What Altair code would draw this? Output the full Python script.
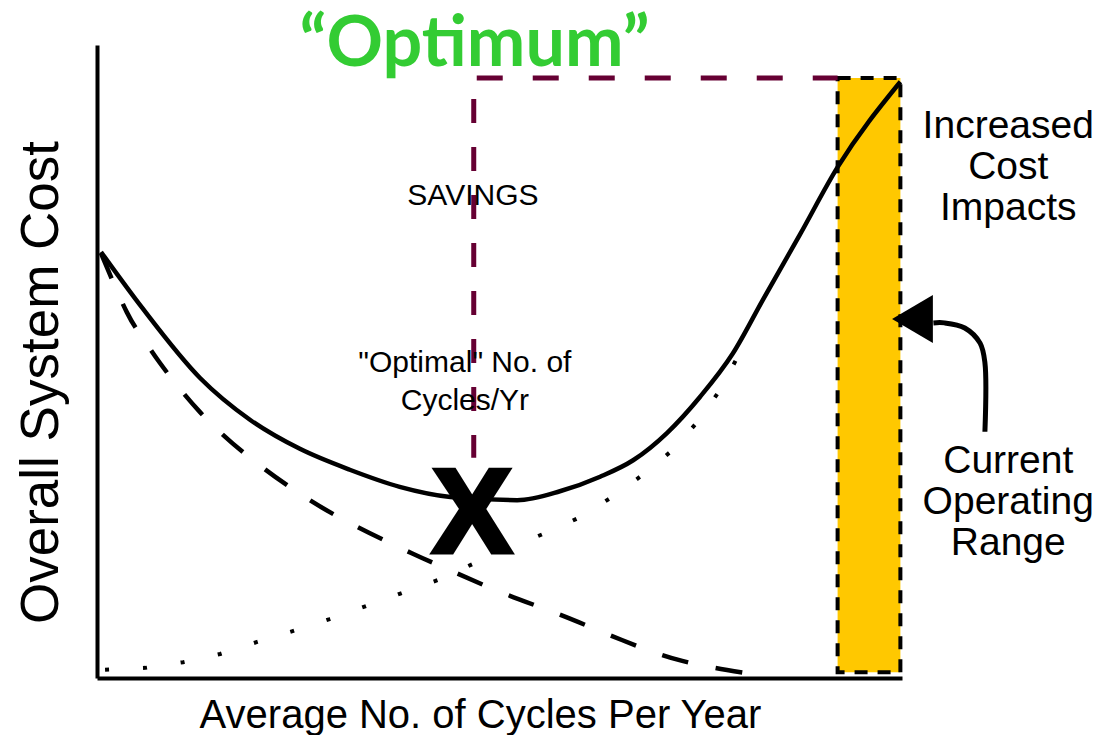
import altair as alt
import pandas as pd

# ---- Data (x = average cycles per year, y = overall system cost; relative 0-100 scales)
total_x = [0.5, 5.6, 12.8, 19.0, 25.2, 31.4, 37.6, 43.9, 52.2, 57.5, 62.5, 66.6, 70.8, 74.9, 79.0, 82.7, 87.3, 92.0, 99.8]
total_y = [67.3, 58.5, 47.4, 40.8, 36.2, 32.9, 30.2, 28.6, 28.1, 29.5, 31.8, 34.4, 38.7, 44.4, 51.3, 59.7, 70.0, 80.7, 94.2]

dec_x = [0.5, 3.7, 5.6, 7.8, 12.8, 19.0, 25.2, 31.4, 39.1, 43.0, 50.1, 57.5, 65.2, 72.7, 80.5]
dec_y = [67.1, 57.8, 53.9, 49.8, 42.0, 34.8, 29.1, 24.5, 19.7, 17.5, 13.6, 10.0, 6.0, 2.7, 0.8]

inc_x = [1.0, 6.0, 10.7, 15.3, 19.9, 24.3, 28.9, 33.5, 37.6, 42.6, 47.0, 51.3, 55.7, 60.0, 64.0, 67.8, 71.4, 74.7, 77.4, 79.9]
inc_y = [1.3, 1.6, 2.5, 3.8, 5.7, 7.4, 9.3, 11.4, 13.3, 15.6, 18.2, 20.6, 22.9, 25.4, 28.6, 32.1, 35.9, 40.6, 45.5, 51.5]

optimum_x = [46.8]
savings_top = [94.8]
savings_bottom = [34.8]
range_x = [92.0, 99.8]
range_y = [0.9, 94.8]

arrow_x = [103.9, 105.3, 107.8, 109.7, 110.3, 110.3]
arrow_y = [56.1, 56.1, 55.3, 52.9, 49.8, 38.9]
arrow_head = [101.3, 56.7]

label_text = ["\u201cOptimum\u201d", "SAVINGS", "\"Optimal\" No. of\nCycles/Yr",
              "Increased\nCost\nImpacts", "Current\nOperating\nRange", "X"]
label_x = [46.9, 46.7, 45.7, 113.2, 113.2, 46.6]
label_y = [96.7, 74.7, 48.3, 85.3, 32.4, 19.9]

# ---- Scales / axes
xs = alt.Scale(domain=[0, 100], nice=False, zero=False)
ys = alt.Scale(domain=[0, 100], nice=False, zero=False)
xaxis = alt.Axis(title="Average No. of Cycles Per Year", domain=True, domainColor="black",
                 domainWidth=4, ticks=False, labels=False, grid=False,
                 titleFont="Liberation Sans", titleFontSize=40, titleFontWeight="normal",
                 titleColor="black", titleX=383, titleY=49, titleAlign="center",
                 titleBaseline="alphabetic")
yaxis = alt.Axis(title="Overall System Cost", domain=True, domainColor="black",
                 domainWidth=4, ticks=False, labels=False, grid=False,
                 titleFont="Liberation Sans", titleFontSize=53, titleFontWeight="normal",
                 titleColor="black", titleAngle=270, titleX=-40, titleY=337,
                 titleAlign="center", titleBaseline="alphabetic")


def X(f="x"):
    return alt.X(f"{f}:Q", scale=xs, axis=xaxis)


def Y(f="y"):
    return alt.Y(f"{f}:Q", scale=ys, axis=yaxis)


def line_df(xv, yv):
    return pd.DataFrame({"x": xv, "y": yv, "i": list(range(len(xv)))})


# ---- Layers
rect = alt.Chart(pd.DataFrame({"x": [range_x[0]], "x2": [range_x[1]],
                               "y": [range_y[0]], "y2": [range_y[1]]})).mark_rect(
    fill="#FFC800", stroke="black", strokeWidth=4, strokeDash=[13, 10]
).encode(x=X(), x2="x2:Q", y=Y(), y2="y2:Q")

vrule = alt.Chart(pd.DataFrame({"x": optimum_x, "y": savings_top, "y2": savings_bottom})).mark_rule(
    color="#660033", strokeWidth=5, strokeDash=[24, 24], strokeDashOffset=27
).encode(x=X(), y=Y(), y2="y2:Q")

hrule = alt.Chart(pd.DataFrame({"x": optimum_x, "x2": [range_x[0]], "y": savings_top})).mark_rule(
    color="#660033", strokeWidth=5, strokeDash=[26, 30], strokeDashOffset=53
).encode(x=X(), x2="x2:Q", y=Y())

dotted = alt.Chart(line_df(inc_x, inc_y)).mark_line(
    color="black", strokeWidth=4, strokeDash=[4, 34]
).encode(x=X(), y=Y(), order="i:Q")

dashed = alt.Chart(line_df(dec_x, dec_y)).mark_line(
    color="black", strokeWidth=4.5, strokeDash=[27, 28], interpolate="natural"
).encode(x=X(), y=Y(), order="i:Q")

solid = alt.Chart(line_df(total_x, total_y)).mark_line(
    color="black", strokeWidth=4.5, interpolate="monotone"
).encode(x=X(), y=Y(), order="i:Q")

arrow = alt.Chart(line_df(arrow_x, arrow_y)).mark_line(
    color="black", strokeWidth=5, interpolate="catmull-rom"
).encode(x=X(), y=Y(), order="i:Q")

head = alt.Chart(pd.DataFrame({"x": [arrow_head[0]], "y": [arrow_head[1]]})).mark_point(
    shape="M0.85,-1L-0.85,0L0.85,1Z", size=2304, filled=True, color="black", opacity=1
).encode(x=X(), y=Y())

labels = pd.DataFrame({"t": label_text, "x": label_x, "y": label_y})


def text_layer(idx, **kw):
    return alt.Chart(labels.iloc[[idx]]).mark_text(
        align="center", baseline="alphabetic", lineBreak="\n", **kw
    ).encode(x=X(), y=Y(), text="t:N")


t_opt = text_layer(0, font="Lato", fontSize=70, fontWeight="bold", color="#33CC33")
t_sav = text_layer(1, font="Liberation Sans", fontSize=30, color="black")
t_optimal = text_layer(2, font="Liberation Sans", fontSize=30, color="black", lineHeight=38)
t_inc = text_layer(3, font="Liberation Sans", fontSize=39, color="black", lineHeight=41)
t_cur = text_layer(4, font="Liberation Sans", fontSize=39, color="black", lineHeight=41)
t_x = text_layer(5, font="Liberation Sans", fontSize=118, fontWeight="bold", color="black",
                 stroke="black", strokeWidth=5)

chart = alt.layer(
    rect, vrule, hrule, dotted, dashed, solid, arrow, head,
    t_opt, t_sav, t_optimal, t_inc, t_cur, t_x
).properties(
    width=805, height=633,
    padding={"left": 89, "top": 37, "right": 195, "bottom": 57},
    autosize=alt.AutoSizeParams(type="none"),
).configure_view(stroke=None)

chart.save("out.html", embed_options={"renderer": "svg", "actions": False})
